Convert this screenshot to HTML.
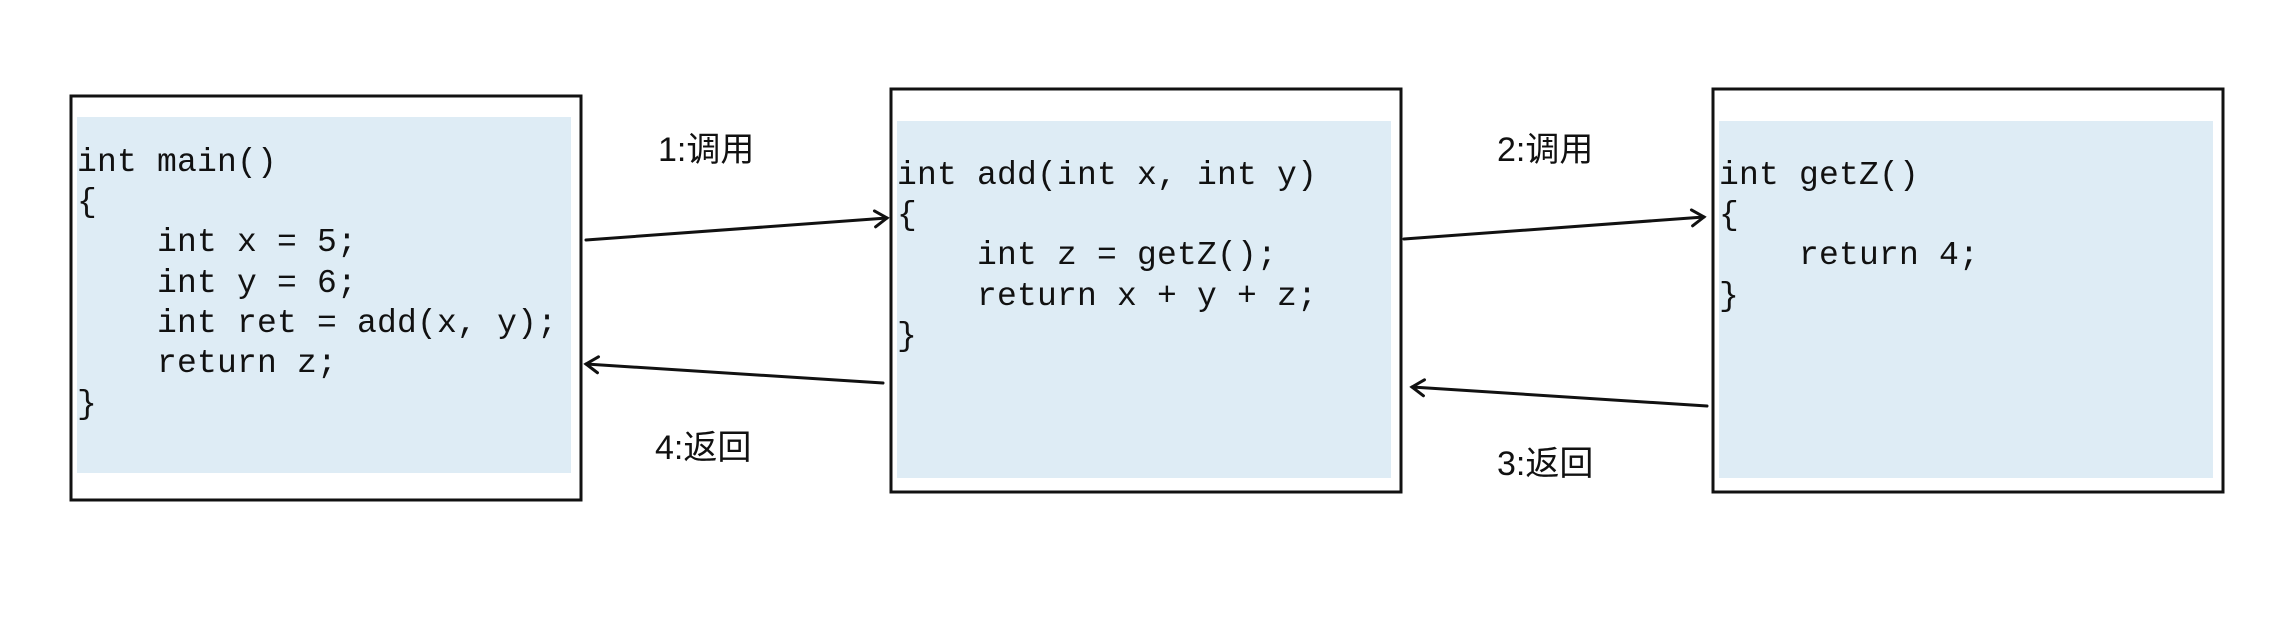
<!DOCTYPE html>
<html><head><meta charset="utf-8"><style>
html,body{margin:0;padding:0;background:#fff;}
svg{display:block}
.c{font-family:"Liberation Mono","Noto Sans CJK SC",monospace;font-size:33px;letter-spacing:0.2px;fill:#111;}
.l{font-family:"Liberation Sans","Noto Sans CJK SC",sans-serif;font-size:34px;fill:#111;}
</style></head><body>
<svg width="2284" height="624" viewBox="0 0 2284 624" xmlns="http://www.w3.org/2000/svg">
<defs><marker id="a" markerWidth="20" markerHeight="20" refX="14" refY="10" orient="auto" markerUnits="userSpaceOnUse">
<path d="M2,2 L14,10 L2,18" fill="none" stroke="#111" stroke-width="3" stroke-linecap="round"/></marker></defs>
<rect x="71" y="96" width="510" height="404" fill="#fff" stroke="#111" stroke-width="3"/>
<rect x="77" y="117" width="494" height="356" fill="#deecf5"/>
<rect x="891" y="89" width="510" height="403" fill="#fff" stroke="#111" stroke-width="3"/>
<rect x="897" y="121" width="494" height="357" fill="#deecf5"/>
<rect x="1713" y="89" width="510" height="403" fill="#fff" stroke="#111" stroke-width="3"/>
<rect x="1719" y="121" width="494" height="357" fill="#deecf5"/>
<g class="c">
<text x="77" y="171" xml:space="preserve">int main()</text>
<text x="77" y="211">{</text>
<text x="77" y="251" xml:space="preserve">    int x = 5;</text>
<text x="77" y="292" xml:space="preserve">    int y = 6;</text>
<text x="77" y="332" xml:space="preserve">    int ret = add(x, y);</text>
<text x="77" y="372" xml:space="preserve">    return z;</text>
<text x="77" y="413">}</text>
<text x="897" y="184" xml:space="preserve">int add(int x, int y)</text>
<text x="897" y="224">{</text>
<text x="897" y="264" xml:space="preserve">    int z = getZ();</text>
<text x="897" y="305" xml:space="preserve">    return x + y + z;</text>
<text x="897" y="345">}</text>
<text x="1719" y="184" xml:space="preserve">int getZ()</text>
<text x="1719" y="224">{</text>
<text x="1719" y="264" xml:space="preserve">    return 4;</text>
<text x="1719" y="305">}</text>
</g>
<g stroke="#111" stroke-width="3" fill="none" stroke-linecap="round">
<line x1="586" y1="240" x2="887" y2="218" marker-end="url(#a)"/>
<line x1="883" y1="383" x2="586" y2="364" marker-end="url(#a)"/>
<line x1="1404" y1="239" x2="1704" y2="217" marker-end="url(#a)"/>
<line x1="1707" y1="406" x2="1412" y2="387" marker-end="url(#a)"/>
</g>
<g class="l">
<text x="658" y="161">1:调用</text>
<text x="655" y="459">4:返回</text>
<text x="1497" y="161">2:调用</text>
<text x="1497" y="475">3:返回</text>
</g>
</svg>
</body></html>
